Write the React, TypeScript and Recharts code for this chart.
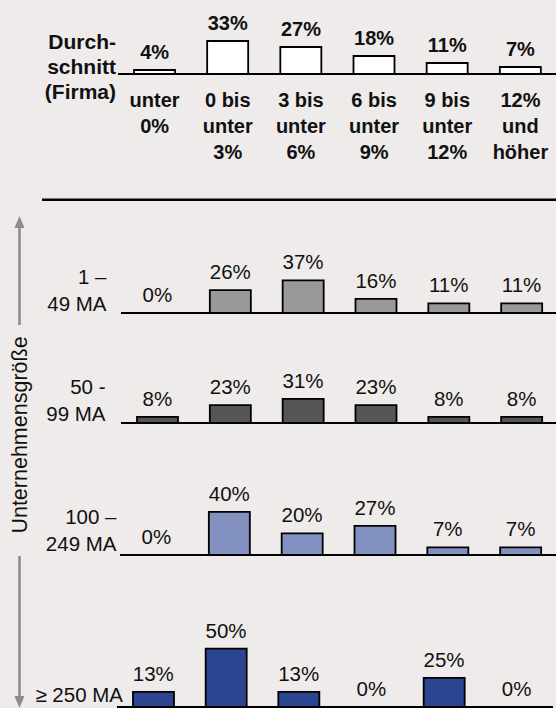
import React from 'react';
import { ComposedChart, Bar, Line, XAxis, YAxis, LabelList } from 'recharts';

// categories (return bands)
const categories = [
    'unter\n0%',
    '0 bis\nunter\n3%',
    '3 bis\nunter\n6%',
    '6 bis\nunter\n9%',
    '9 bis\nunter\n12%',
    '12%\nund\nhöher',
];
const averageFirm = [4, 33, 27, 18, 11, 7];
const size1to49 = [0, 26, 37, 16, 11, 11];
const size50to99 = [8, 23, 31, 23, 8, 8];
const size100to249 = [0, 40, 20, 27, 7, 7];
const size250plus = [13, 50, 13, 0, 25, 0];

const averageLabel = ['Durch-', 'schnitt', '(Firma)'];
const sizeLabels = [['1 –', '49 MA'], ['50 -', '99 MA'], ['100 –', '249 MA'], ['≥ 250 MA']];
const axisTitle = 'Unternehmensgröße';

const FONT = '"Liberation Sans", Arial, Helvetica, sans-serif';
const BG = '#EEEBEA';
const INK = '#111111';
const ARROW = '#8C8C8C';

const PLOT_H = 70;
const TOP_PAD = 30;

const toRows = (values: number[]) => categories.map((cat, i) => ({ cat, value: values[i] }));

// each size class is its own little chart, with its own y scale like the original
const panels = [
    { values: size1to49, label: sizeLabels[0], fill: '#999999', baseline: 312.7, left: 121, width: 437, max: 79.5, labelX: 106.5, labelY: 284 },
    { values: size50to99, label: sizeLabels[1], fill: '#565656', baseline: 422.7, left: 121, width: 437, max: 90, labelX: 105.5, labelY: 394 },
    { values: size100to249, label: sizeLabels[2], fill: '#8291BF', baseline: 554.5, left: 120, width: 437, max: 65, labelX: 116.5, labelY: 524 },
    { values: size250plus, label: sizeLabels[3], fill: '#2C4591', baseline: 706.7, left: 117, width: 436, max: 60, labelX: 123, labelY: 702 },
];

const CategoryTick = ({ x, y, payload }: any) => {
    const lines = String(payload.value).split('\n');
    return (
        <text x={x} y={y} textAnchor="middle" fill={INK} fontSize={20} fontWeight="bold" fontFamily={FONT}>
            {lines.map((line, i) => (
                <tspan key={i} x={x} dy={i === 0 ? 32.7 : 26.3}>{line}</tspan>
            ))}
        </text>
    );
};

const pct = (v: any) => `${v}%`;

// invisible line only carries the value labels, so 0% gets a label too
const ValueLabels = ({ bold }: { bold?: boolean }) => (
    <Line
        dataKey="value"
        stroke="none"
        dot={false}
        activeDot={false}
        legendType="none"
        isAnimationActive={false}
    >
        <LabelList
            dataKey="value"
            position="top"
            offset={11}
            formatter={pct}
            fill={INK}
            fontSize={bold ? 20 : 20.5}
            fontWeight={bold ? 'bold' : 'normal'}
            fontFamily={FONT}
        />
    </Line>
);

const AverageChart = () => (
    <div style={{ position: 'absolute', left: 118, top: 74 - PLOT_H - TOP_PAD }}>
        <ComposedChart
            width={439}
            height={PLOT_H + TOP_PAD + 100}
            data={toRows(averageFirm)}
            margin={{ top: TOP_PAD, right: 0, left: 0, bottom: 0 }}
        >
            <XAxis
                dataKey="cat"
                height={100}
                interval={0}
                tickSize={0}
                tickMargin={0}
                tickLine={false}
                tick={<CategoryTick />}
                axisLine={{ stroke: '#000', strokeWidth: 2 }}
            />
            <YAxis hide domain={[0, 70]} allowDataOverflow />
            <Bar dataKey="value" fill="#FFFFFF" stroke="#000" strokeWidth={1.8} barSize={41} isAnimationActive={false} />
            {ValueLabels({ bold: true })}
        </ComposedChart>
    </div>
);

const SizePanel = ({ values, fill, baseline, left, width, max }: any) => (
    <div style={{ position: 'absolute', left, top: baseline - PLOT_H - TOP_PAD }}>
        <ComposedChart
            width={width}
            height={PLOT_H + TOP_PAD + 2}
            data={toRows(values)}
            margin={{ top: TOP_PAD, right: 0, left: 0, bottom: 0 }}
        >
            <XAxis
                dataKey="cat"
                height={2}
                tick={false}
                tickLine={false}
                axisLine={{ stroke: '#000', strokeWidth: 2 }}
            />
            <YAxis hide domain={[0, max]} allowDataOverflow />
            <Bar dataKey="value" fill={fill} stroke="#000" strokeWidth={1.8} barSize={41} isAnimationActive={false} />
            {ValueLabels({})}
        </ComposedChart>
    </div>
);

export default function App() {
    return (
        <div
            style={{
                position: 'absolute',
                left: 0,
                top: 0,
                width: 556,
                height: 708,
                overflow: 'hidden',
                background: BG,
                fontFamily: FONT,
            }}
        >
            <AverageChart />
            {panels.map((p, i) => (
                <SizePanel key={i} {...p} />
            ))}

            {/* labels, separator and the size arrow */}
            <svg width={556} height={708} style={{ position: 'absolute', left: 0, top: 0, pointerEvents: 'none' }}>
                {averageLabel.map((line, i) => (
                    <text key={i} x={116} y={49.3 + i * 24.7} textAnchor="end" fill={INK} fontSize={21} fontWeight="bold" fontFamily={FONT}>
                        {line}
                    </text>
                ))}

                <line x1={42} x2={556} y1={199.8} y2={199.8} stroke="#000" strokeWidth={2.6} />

                {panels.map((p, i) =>
                    p.label.map((line, j) => (
                        <text key={`${i}-${j}`} x={p.labelX} y={p.labelY + j * 26.5} textAnchor="end" fill={INK} fontSize={20.5} fontFamily={FONT}>
                            {line}
                        </text>
                    ))
                )}

                <line x1={19.5} x2={19.5} y1={226} y2={325} stroke={ARROW} strokeWidth={2.6} />
                <polygon points="19.5,216 14.5,228 24.5,228" fill={ARROW} />
                <text
                    transform="translate(27,435) rotate(-90)"
                    textAnchor="middle"
                    fill={INK}
                    fontSize={21.5}
                    fontFamily={FONT}
                >
                    {axisTitle}
                </text>
                <line x1={19.5} x2={19.5} y1={556} y2={698} stroke={ARROW} strokeWidth={2.6} />
                <polygon points="19.5,708 14.5,696 24.5,696" fill={ARROW} />
            </svg>
        </div>
    );
}
